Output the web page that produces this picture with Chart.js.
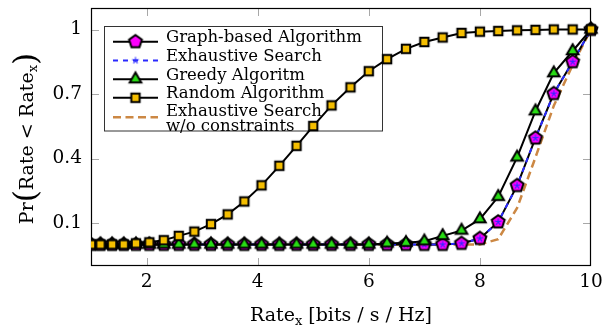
<!DOCTYPE html>
<html>
<head>
<meta charset="utf-8">
<script src="https://cdn.jsdelivr.net/npm/chart.js@4.4.1/dist/chart.umd.min.js"></script>
<style>
  html, body { margin: 0; padding: 0; background: #fff; }
  canvas { display: block; }
</style>
</head>
<body>
<canvas id="cdf" width="611" height="331"></canvas>
<script>
// Rate grid (bits/s/Hz) shared by every curve
const rates = [1.0, 1.17, 1.38, 1.59, 1.81, 2.05, 2.31, 2.58, 2.86, 3.16, 3.46, 3.76, 4.07, 4.39, 4.7,
               5.0, 5.33, 5.67, 6.0, 6.33, 6.67, 7.0, 7.33, 7.67, 8.0, 8.33, 8.67, 9.0, 9.33, 9.67, 10.0];

// Empirical CDF values, one per rate
const graphBased = [0, 0, 0, 0, 0, 0, 0, 0, 0, 0, 0, 0, 0, 0, 0,
                    0, 0, 0, 0, 0, 0, 0, 0, 0.005, 0.028, 0.105, 0.274, 0.495, 0.702, 0.85, 1.0];
const exhaustive = [0, 0, 0, 0, 0, 0, 0, 0, 0, 0, 0, 0, 0, 0, 0,
                    0, 0, 0, 0, 0, 0, 0, 0, 0.005, 0.028, 0.105, 0.274, 0.495, 0.702, 0.85, 1.0];
const greedy     = [0, 0, 0, 0, 0, 0, 0, 0, 0, 0, 0, 0, 0, 0, 0,
                    0, 0, 0, 0, 0.005, 0.008, 0.015, 0.04, 0.065, 0.118, 0.222, 0.405, 0.62, 0.797, 0.9, 1.0];
const randomAlg  = [0, 0, 0, 0, 0.005, 0.01, 0.02, 0.04, 0.06, 0.095, 0.14, 0.2, 0.275, 0.366, 0.459,
                    0.551, 0.647, 0.731, 0.806, 0.862, 0.91, 0.942, 0.963, 0.984, 0.99, 0.993, 0.996, 0.998, 1.0, 1.0, 1.0];
const exhaustiveFree = [0, 0, 0, 0, 0, 0, 0, 0, 0, 0, 0, 0, 0, 0, 0,
                    0, 0, 0, 0, 0, 0, 0, 0, 0, 0, 0.025, 0.17, 0.405, 0.645, 0.835, 1.0];

const xTicks = [2, 4, 6, 8, 10];
const yTicks = [0.1, 0.4, 0.7, 1];

const seriesNames = ['Graph-based Algorithm', 'Exhaustive Search', 'Greedy Algoritm', 'Random Algorithm',
                     ['Exhaustive Search', 'w/o constraints']];

const FONT = 'DejaVu Serif';
const MAGENTA = '#ff00ff', BLUE = '#2a2aff', GREEN = '#28dc14', GOLD = '#f5be00', BROWN = '#cc8844';

// ---- marker sprites ----
function sprite(draw) {
  const c = document.createElement('canvas');
  c.width = 22; c.height = 22;
  const g = c.getContext('2d');
  g.translate(11, 11);
  draw(g);
  return c;
}
function polygon(g, n, r, fill) {
  g.beginPath();
  for (let k = 0; k < n; k++) {
    const a = -Math.PI / 2 + k * 2 * Math.PI / n;
    const px = r * Math.cos(a), py = r * Math.sin(a);
    if (k === 0) g.moveTo(px, py); else g.lineTo(px, py);
  }
  g.closePath();
  g.fillStyle = fill; g.fill();
  g.lineWidth = 2; g.strokeStyle = '#000'; g.lineJoin = 'miter'; g.stroke();
}
const pentagonMark = sprite(g => polygon(g, 5, 6.8, MAGENTA));
const triangleMark = sprite(g => polygon(g, 3, 6.7, GREEN));
const squareMark = sprite(g => {
  g.beginPath(); g.rect(-4.2, -4.2, 8.4, 8.4);
  g.fillStyle = GOLD; g.fill();
  g.lineWidth = 2; g.strokeStyle = '#000'; g.stroke();
});
const starMark = sprite(g => {
  g.strokeStyle = BLUE; g.lineWidth = 1.1; g.lineCap = 'butt';
  g.beginPath();
  for (let k = 0; k < 5; k++) {
    const a = -Math.PI / 2 + k * 2 * Math.PI / 5;
    g.moveTo(0, 0); g.lineTo(3.5 * Math.cos(a), 3.5 * Math.sin(a));
  }
  g.stroke();
});

const pts = ys => rates.map((x, i) => ({ x, y: ys[i] }));
const clipBox = { left: 0, top: 20, right: 20, bottom: 20 };

// ---- decorations: frame, inner ticks, legend, axis titles ----
const legendRows = [
  { line: { color: '#000', width: 2, dash: [] }, mark: pentagonMark, y: 41.7 },
  { line: { color: BLUE, width: 2, dash: [5, 5] }, mark: starMark, y: 60.5 },
  { line: { color: '#000', width: 2, dash: [] }, mark: triangleMark, y: 79.2 },
  { line: { color: '#000', width: 2, dash: [] }, mark: squareMark, y: 97.8 },
  { line: { color: BROWN, width: 2.5, dash: [8, 4.5] }, mark: null, y: 117.2 }
];

function drawRich(ctx, parts, x, y) {
  // parts: [text, fontSize, baselineShift]
  let total = 0;
  parts.forEach(p => { ctx.font = p[1] + 'px "' + FONT + '"'; p.w = ctx.measureText(p[0]).width; total += p.w; });
  let cx = x - total / 2;
  parts.forEach(p => {
    ctx.font = p[1] + 'px "' + FONT + '"';
    ctx.fillText(p[0], cx, y + (p[2] || 0));
    cx += p.w;
  });
}

const decor = {
  id: 'decor',
  beforeDatasetsDraw(chart) {
    const { ctx, chartArea: ca, scales } = chart;
    ctx.save();
    // inner tick marks
    ctx.strokeStyle = '#a8a8a8'; ctx.lineWidth = 1;
    const tl = 8;
    ctx.beginPath();
    xTicks.forEach(v => {
      const px = Math.round(scales.x.getPixelForValue(v)) + 0.5;
      if (px > ca.right - 1) return;
      ctx.moveTo(px, ca.bottom); ctx.lineTo(px, ca.bottom - tl);
      ctx.moveTo(px, ca.top); ctx.lineTo(px, ca.top + tl);
    });
    yTicks.forEach(v => {
      const py = Math.round(scales.y.getPixelForValue(v)) + 0.5;
      ctx.moveTo(ca.left, py); ctx.lineTo(ca.left + tl, py);
      ctx.moveTo(ca.right, py); ctx.lineTo(ca.right - tl, py);
    });
    ctx.stroke();

    // frame
    ctx.strokeStyle = '#000'; ctx.lineWidth = 1.2;
    ctx.strokeRect(ca.left + 0.5, ca.top + 0.5, ca.right - ca.left - 1, ca.bottom - ca.top - 1);

    // legend box
    const bx = 104.5, by = 26.5, bw = 278, bh = 104.5;
    ctx.fillStyle = '#fff'; ctx.fillRect(bx, by, bw, bh);
    ctx.strokeStyle = '#333'; ctx.lineWidth = 1; ctx.strokeRect(bx, by, bw, bh);

    ctx.font = '16.5px "' + FONT + '"';
    ctx.fillStyle = '#000'; ctx.textAlign = 'left'; ctx.textBaseline = 'alphabetic';
    legendRows.forEach((row, i) => {
      ctx.save();
      ctx.strokeStyle = row.line.color; ctx.lineWidth = row.line.width; ctx.setLineDash(row.line.dash);
      ctx.beginPath(); ctx.moveTo(113, row.y); ctx.lineTo(158, row.y); ctx.stroke();
      ctx.restore();
      if (row.mark) ctx.drawImage(row.mark, 135.5 - 11, row.y - 11);
      const name = seriesNames[i];
      if (Array.isArray(name)) {
        ctx.fillText(name[0], 166, row.y - 0.8);
        ctx.fillText(name[1], 166, row.y + 13.6);
      } else {
        ctx.fillText(name, 166, row.y + 0.3);
      }
    });
    ctx.restore();
  },
  afterDraw(chart) {
    const { ctx, chartArea: ca } = chart;
    ctx.save();
    ctx.fillStyle = '#000'; ctx.textAlign = 'left'; ctx.textBaseline = 'alphabetic';
    // x-axis title
    drawRich(ctx, [['Rate', 19], ['x', 13, 4], [' [bits / s / Hz]', 19]], (ca.left + ca.right) / 2, 321);
    // y-axis title
    ctx.translate(33, 138.5);
    ctx.rotate(-Math.PI / 2);
    drawRich(ctx, [['Pr', 19], ['(', 31, 2.5], ['Rate < Rate', 19], ['x', 13, 4], [')', 31, 2.5]], 0, 0);
    ctx.restore();
  }
};

Chart.defaults.font.family = FONT;
Chart.defaults.color = '#000';

// Datasets listed top-most first: Chart.js paints the last one first.
new Chart(document.getElementById('cdf'), {
  type: 'line',
  data: {
    datasets: [
      { label: seriesNames[3], data: pts(randomAlg), borderColor: '#000', borderWidth: 2,
        pointStyle: squareMark, pointRadius: 5, clip: clipBox },
      { label: seriesNames[2], data: pts(greedy), borderColor: '#000', borderWidth: 2,
        pointStyle: triangleMark, pointRadius: 5, clip: clipBox },
      // exhaustive-search stars sit on top of the pentagons
      { label: seriesNames[1] + ' marks', data: pts(exhaustive), showLine: false,
        pointStyle: starMark, pointRadius: 5, clip: clipBox },
      { label: seriesNames[0] + ' marks', data: pts(graphBased), showLine: false,
        pointStyle: pentagonMark, pointRadius: 5, clip: clipBox },
      // curves underneath the markers
      { label: seriesNames[1], data: pts(exhaustive), borderColor: BLUE, borderWidth: 2, borderDash: [5, 5],
        pointRadius: 0, clip: clipBox },
      { label: seriesNames[0], data: pts(graphBased), borderColor: '#000', borderWidth: 2,
        pointRadius: 0, clip: clipBox },
      { label: seriesNames[4].join(' '), data: pts(exhaustiveFree), borderColor: BROWN, borderWidth: 2.5,
        borderDash: [8, 4.5], pointRadius: 0, clip: clipBox }
    ]
  },
  options: {
    responsive: false,
    animation: false,
    events: [],
    elements: { line: { tension: 0, fill: false } },
    layout: { padding: { top: 8, right: 20, left: 0, bottom: 0 } },
    plugins: { legend: { display: false }, tooltip: { enabled: false } },
    scales: {
      x: {
        type: 'linear', min: 1, max: 10,
        afterBuildTicks: s => { s.ticks = xTicks.map(v => ({ value: v })); },
        afterFit: s => { s.height = 65; s.paddingLeft = 0; s.paddingRight = 0; },
        ticks: { font: { size: 18.5 }, color: '#000', padding: 5, maxRotation: 0, autoSkip: false,
                 callback: v => String(v) },
        grid: { display: false, drawTicks: false },
        border: { display: false }
      },
      y: {
        type: 'linear', min: -0.1, max: 1.1,
        afterBuildTicks: s => { s.ticks = yTicks.map(v => ({ value: v })); },
        afterFit: s => { s.width = 91; s.paddingTop = 0; s.paddingBottom = 0; },
        ticks: { font: { size: 18.5 }, color: '#000', padding: 9, autoSkip: false,
                 callback: v => String(v) },
        grid: { display: false, drawTicks: false },
        border: { display: false }
      }
    }
  },
  plugins: [decor]
});
</script>
</body>
</html>
